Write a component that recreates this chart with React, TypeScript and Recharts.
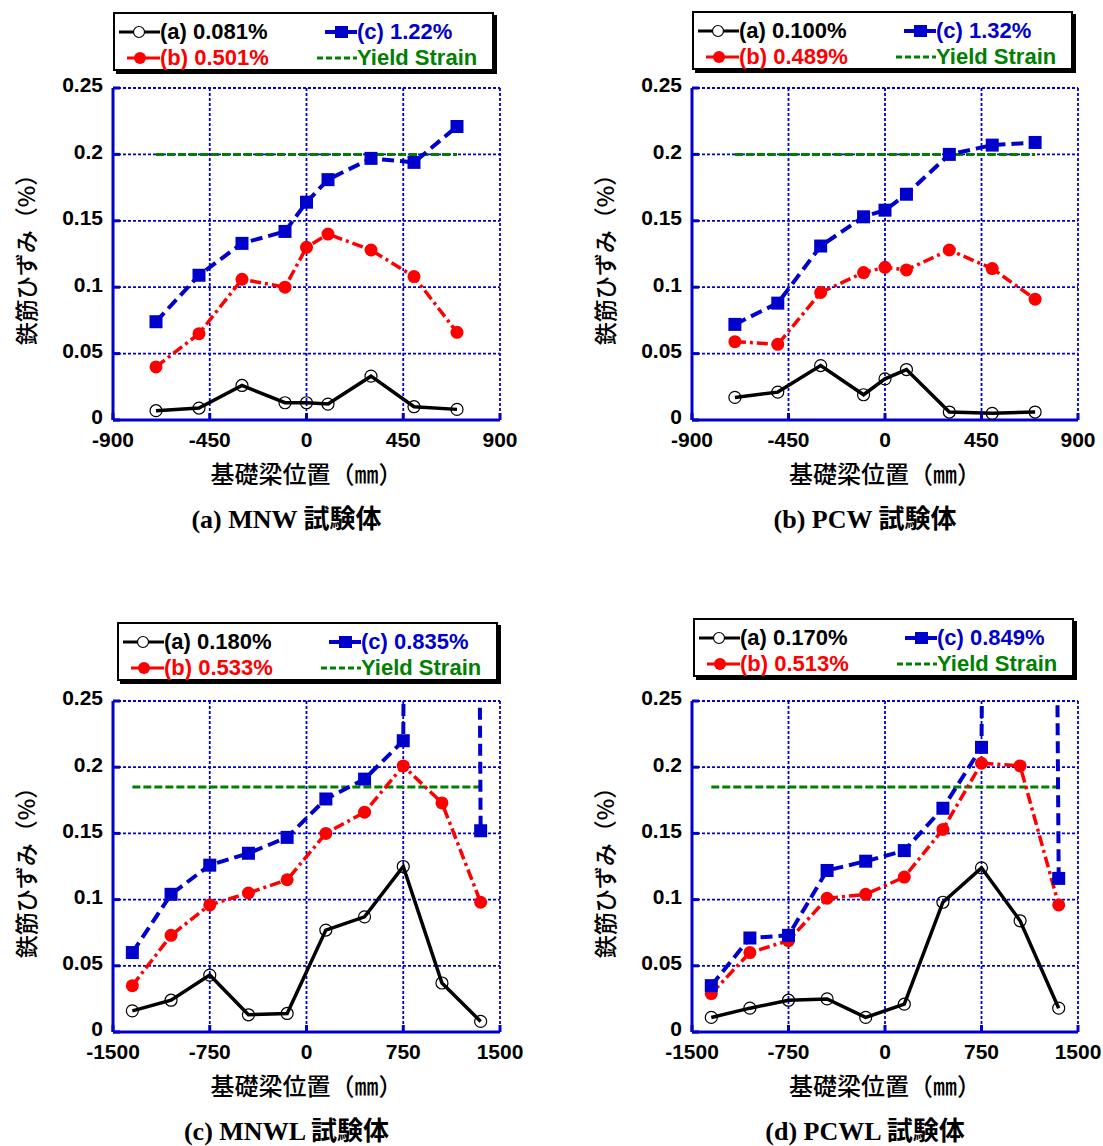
import React from "react";
import { LineChart, Line, XAxis, YAxis, CartesianGrid } from "recharts";

// beam positions (mm)
const posShort = [-700, -500, -300, -100, 0, 100, 300, 500, 700];
const posLong = [-1350, -1050, -750, -450, -150, 150, 450, 750, 1050, 1350];

const xTicksShort = [-900, -450, 0, 450, 900];
const xTicksLong = [-1500, -750, 0, 750, 1500];
const yTicks = [0, 0.05, 0.1, 0.15, 0.2, 0.25];

// (a) MNW
const mnwA = [0.007, 0.009, 0.026, 0.013, 0.013, 0.012, 0.033, 0.01, 0.008];
const mnwB = [0.04, 0.065, 0.106, 0.1, 0.13, 0.14, 0.128, 0.108, 0.066];
const mnwC = [0.074, 0.109, 0.133, 0.142, 0.164, 0.181, 0.197, 0.194, 0.221];

// (b) PCW
const pcwA = [0.017, 0.021, 0.041, 0.019, 0.031, 0.038, 0.006, 0.005, 0.006];
const pcwB = [0.059, 0.057, 0.096, 0.111, 0.115, 0.113, 0.128, 0.114, 0.091];
const pcwC = [0.072, 0.088, 0.131, 0.153, 0.158, 0.17, 0.2, 0.207, 0.209];

// (c) MNWL  (1050 mm gauge of series c runs far off scale)
const mnwlA = [0.016, 0.024, 0.043, 0.013, 0.014, 0.077, 0.087, 0.125, 0.037, 0.008];
const mnwlB = [0.035, 0.073, 0.096, 0.105, 0.115, 0.15, 0.166, 0.201, 0.173, 0.098];
const mnwlC = [0.06, 0.104, 0.126, 0.135, 0.147, 0.176, 0.191, 0.22, 5.0, 0.152];

// (d) PCWL
const pcwlA = [0.011, 0.018, 0.024, 0.025, 0.011, 0.021, 0.098, 0.124, 0.084, 0.018];
const pcwlB = [0.029, 0.06, 0.069, 0.101, 0.104, 0.117, 0.153, 0.203, 0.201, 0.096];
const pcwlC = [0.035, 0.071, 0.073, 0.122, 0.129, 0.137, 0.169, 0.215, 4.3, 0.116];

// yield strain lines
const yieldShortX = [-700, 700];
const yieldShortY = [0.2, 0.2];
const yieldLongX = [-1350, 1350];
const yieldLongY = [0.185, 0.185];

// legend labels (drift)
const legendMNW = ["(a) 0.081%", "(b) 0.501%", "(c) 1.22%", "Yield Strain"];
const legendPCW = ["(a) 0.100%", "(b) 0.489%", "(c) 1.32%", "Yield Strain"];
const legendMNWL = ["(a) 0.180%", "(b) 0.533%", "(c) 0.835%", "Yield Strain"];
const legendPCWL = ["(a) 0.170%", "(b) 0.513%", "(c) 0.849%", "Yield Strain"];

const BLUE = "#0000CC";
const RED = "#FF0000";
const GREEN = "#008000";
const SANS = '"Liberation Sans", Arial, sans-serif';
const CJK = '"Noto Sans CJK JP", sans-serif';
const SERIF = '"Liberation Serif", "Noto Sans CJK JP", serif';

const rows = (xs: number[], ys: number[]) => xs.map((x, i) => ({ x, y: ys[i] }));

const OpenDot = (p: any) => (
  <circle key={`o${p.index}`} cx={p.cx} cy={p.cy} r={6} fill="none" stroke="#000" strokeWidth={1.2} />
);
const RedDot = (p: any) => (
  <circle key={`r${p.index}`} cx={p.cx} cy={p.cy} r={6.5} fill={RED} stroke="none" />
);
const SquareDot = (p: any) => (
  <rect key={`s${p.index}`} x={p.cx - 6.5} y={p.cy - 6.5} width={13} height={13} fill={BLUE} stroke="none" />
);

function LegendBox({ left, top, labels }: { left: number; top: number; labels: string[] }) {
  const text = (l: number, y: number, color: string, s: string) => (
    <span style={{ position: "absolute", left: l, top: y - 13, lineHeight: "26px", color, whiteSpace: "nowrap" }}>{s}</span>
  );
  return (
    <div
      style={{
        position: "absolute", left, top, width: 381, height: 59, boxSizing: "border-box",
        border: "2px solid #000", boxShadow: "3px 3px 0 #000", background: "#fff",
        fontFamily: SANS, fontWeight: "bold", fontSize: 22,
      }}
    >
      <svg style={{ position: "absolute", left: 4, top: 8 }} width={41} height={20}>
        <line x1={0} y1={10} x2={41} y2={10} stroke="#000" strokeWidth={3} />
        <circle cx={20} cy={10} r={5.5} fill="#fff" stroke="#000" strokeWidth={1.2} />
      </svg>
      {text(45, 18, "#000", labels[0])}
      <svg style={{ position: "absolute", left: 12, top: 34 }} width={33} height={20}>
        <line x1={0} y1={10} x2={33} y2={10} stroke={RED} strokeWidth={3} />
        <circle cx={13} cy={10} r={6} fill={RED} />
      </svg>
      {text(45, 44, RED, labels[1])}
      <svg style={{ position: "absolute", left: 210, top: 8 }} width={32} height={20}>
        <line x1={0} y1={10} x2={32} y2={10} stroke={BLUE} strokeWidth={4} />
        <rect x={10} y={4} width={13} height={12} fill={BLUE} />
      </svg>
      {text(242, 18, BLUE, labels[2])}
      <svg style={{ position: "absolute", left: 202, top: 34 }} width={40} height={20}>
        <line x1={0} y1={10} x2={40} y2={10} stroke={GREEN} strokeWidth={3} strokeDasharray="6 3" />
      </svg>
      {text(242, 44, GREEN, labels[3])}
    </div>
  );
}

type PanelProps = {
  px0: number; py0: number; px1: number; py1: number;
  xs: number[]; a: number[]; b: number[]; c: number[];
  yx: number[]; yy: number[];
  xTicks: number[];
  legend: string[]; legendLeft: number; legendTop: number;
  title: string;
};

function Panel(p: PanelProps) {
  const w = p.px1 - p.px0 + 140;
  const h = p.py1 - p.py0 + 60;
  const dom: [number, number] = [p.xTicks[0], p.xTicks[p.xTicks.length - 1]];
  const frame = { stroke: BLUE, strokeWidth: 3 };
  const tickFont = { fontFamily: SANS, fontWeight: "bold", fontSize: 21, fill: "#000" };
  const cx = (p.px0 + p.px1) / 2;
  const cy = (p.py0 + p.py1) / 2;
  return (
    <>
      <LegendBox left={p.legendLeft} top={p.legendTop} labels={p.legend} />
      <div style={{ position: "absolute", left: p.px0 - 110, top: p.py0 - 20 }}>
        <LineChart width={w} height={h} margin={{ top: 20, right: 30, bottom: 0, left: 0 }}>
          <CartesianGrid stroke={BLUE} strokeDasharray="3 2" strokeWidth={1.8} />
          <XAxis
            dataKey="x" type="number" domain={dom} ticks={p.xTicks} interval={0}
            height={40} tickSize={-7} tickMargin={19} axisLine={frame} tickLine={frame}
            tick={tickFont} allowDataOverflow
          />
          <XAxis
            xAxisId="top" orientation="top" type="number" domain={dom} ticks={p.xTicks}
            interval={0} height={0} tickSize={-7} tick={false} axisLine={frame} tickLine={frame}
          />
          <YAxis
            type="number" domain={[0, 0.25]} ticks={yTicks} interval={0} width={110}
            tickSize={-7} tickMargin={17} axisLine={frame} tickLine={frame}
            tick={{ ...tickFont, dy: -3 }} allowDataOverflow
          />
          <YAxis
            yAxisId="right" orientation="right" type="number" domain={[0, 0.25]} ticks={yTicks}
            interval={0} width={0} tickSize={-7} tick={false} axisLine={frame} tickLine={frame}
          />
          <Line
            data={rows(p.yx, p.yy)} dataKey="y" type="linear" stroke={GREEN} strokeWidth={3}
            strokeDasharray="8 3" dot={false} activeDot={false} isAnimationActive={false}
          />
          <Line
            data={rows(p.xs, p.a)} dataKey="y" type="linear" stroke="#000" strokeWidth={3.5}
            dot={OpenDot} activeDot={false} isAnimationActive={false}
          />
          <Line
            data={rows(p.xs, p.b)} dataKey="y" type="linear" stroke={RED} strokeWidth={3.5}
            strokeDasharray="11 4 3 4" dot={RedDot} activeDot={false} isAnimationActive={false}
          />
          <Line
            data={rows(p.xs, p.c)} dataKey="y" type="linear" stroke={BLUE} strokeWidth={4}
            strokeDasharray="12 6" dot={SquareDot} activeDot={false} isAnimationActive={false}
          />
        </LineChart>
      </div>
      <div
        style={{
          position: "absolute", left: p.px0 - 88 - 100, top: cy - 100, width: 200, height: 200,
          display: "flex", alignItems: "center", justifyContent: "center",
        }}
      >
        <div style={{ transform: "rotate(-90deg)", fontFamily: CJK, fontSize: 23, fontWeight: 500, whiteSpace: "nowrap" }}>
          鉄筋ひずみ（%）
        </div>
      </div>
      <div
        style={{
          position: "absolute", left: cx - 200, top: p.py1 + 53 - 15, width: 400, lineHeight: "30px",
          textAlign: "center", fontFamily: CJK, fontSize: 24, fontWeight: 500, whiteSpace: "nowrap",
        }}
      >
        基礎梁位置（㎜）
      </div>
      <div
        style={{
          position: "absolute", left: cx - 20 - 200, top: p.py1 + 100 - 15, width: 400, lineHeight: "30px",
          textAlign: "center", fontFamily: SERIF, fontWeight: "bold", fontSize: 26, whiteSpace: "nowrap",
        }}
      >
        {p.title}
      </div>
    </>
  );
}

export default function App() {
  return (
    <div style={{ position: "absolute", left: 0, top: 0, width: 1103, height: 1146, background: "#fff", overflow: "hidden" }}>
      <Panel px0={113} py0={88} px1={500} py1={420} xs={posShort} a={mnwA} b={mnwB} c={mnwC}
        yx={yieldShortX} yy={yieldShortY} xTicks={xTicksShort} legend={legendMNW}
        legendLeft={113} legendTop={12} title="(a) MNW 試験体" />
      <Panel px0={692} py0={88} px1={1078} py1={420} xs={posShort} a={pcwA} b={pcwB} c={pcwC}
        yx={yieldShortX} yy={yieldShortY} xTicks={xTicksShort} legend={legendPCW}
        legendLeft={692} legendTop={11} title="(b) PCW 試験体" />
      <Panel px0={113} py0={701} px1={500} py1={1032} xs={posLong} a={mnwlA} b={mnwlB} c={mnwlC}
        yx={yieldLongX} yy={yieldLongY} xTicks={xTicksLong} legend={legendMNWL}
        legendLeft={117} legendTop={622} title="(c) MNWL 試験体" />
      <Panel px0={692} py0={701} px1={1078} py1={1032} xs={posLong} a={pcwlA} b={pcwlB} c={pcwlC}
        yx={yieldLongX} yy={yieldLongY} xTicks={xTicksLong} legend={legendPCWL}
        legendLeft={693} legendTop={618} title="(d) PCWL 試験体" />
    </div>
  );
}
